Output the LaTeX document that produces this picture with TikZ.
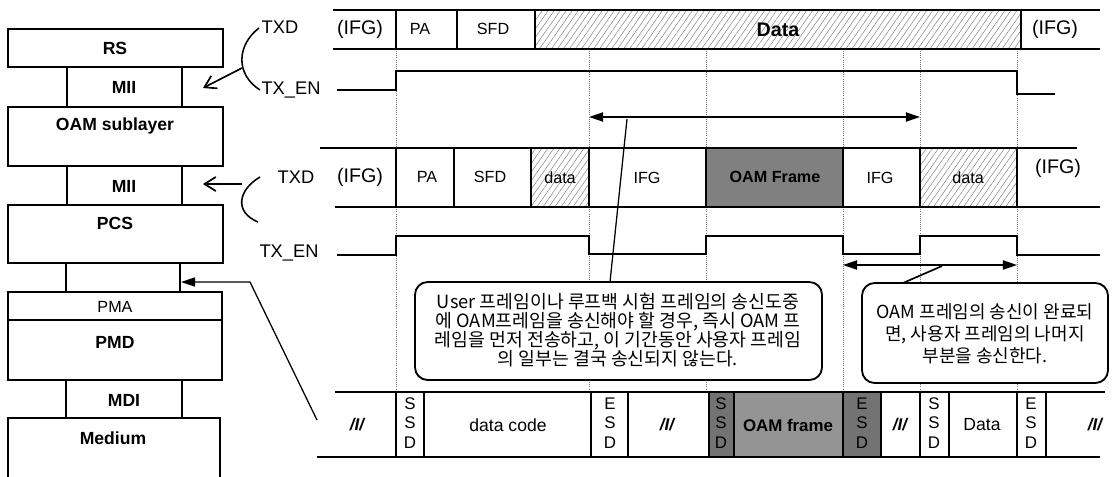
\documentclass[tikz,border=0pt]{standalone}
\usepackage{fontspec}
\setmainfont{Liberation Sans}
\newfontfamily\krfont{Noto Sans CJK KR}
\usetikzlibrary{arrows.meta,patterns.meta}

\tikzset{
  box/.style={line width=1.2pt},
  lbl/.style={font=\fontsize{13}{15}\selectfont},
  layer/.style={font=\fontsize{12.5}{15}\selectfont\bfseries},
  cell/.style={font=\fontsize{11.5}{14}\selectfont},
  big/.style={font=\fontsize{14}{16}\selectfont},
  stack/.style={font=\fontsize{12}{14}\selectfont,align=center},
  guide/.style={densely dotted,black!55,line width=0.5pt},
  hatch/.style={pattern={Lines[angle=55,distance=3.5pt,line width=0.35pt]},pattern color=black!50},
  callout/.style={draw,line width=1.3pt,fill=white,rounded corners=9pt},
  note/.style={font=\krfont\fontsize{13}{13.4}\selectfont,align=center},
  barb/.style={-{Straight Barb[length=8pt,width=10pt]},line width=1.2pt}
}

\begin{document}
\begin{tikzpicture}[x=0.025cm,y=-0.025cm,>={Triangle[length=10pt,width=6.5pt]}]
  \useasboundingbox (0,0) rectangle (1112,476);

  % layer stack
  \draw[box] (8,29) rectangle (223,67);
  \node[layer] (rs) at (115,48) {RS};
  \draw[box] (67,67) rectangle (182,107);
  \node[layer] (miia) at (124,87) {MII};
  \draw[box] (8,107) rectangle (223,166);
  \node[layer] (oam) at (115,126) {OAM sublayer};
  \draw[box] (67,166) rectangle (182,205);
  \node[layer] (miib) at (124,186) {MII};
  \draw[box] (8,205) rectangle (223,263);
  \node[layer] (pcs) at (115,223) {PCS};
  \draw[box] (66,263) rectangle (180,292);
  \draw[box] (8,292) rectangle (222,320);
  \node[cell] (pma) at (115,307) {PMA};
  \draw[box] (8,320) rectangle (222,380);
  \node[layer] (pmd) at (115,342) {PMD};
  \draw[box] (66,380) rectangle (182,418);
  \node[layer] (mdi) at (124,400) {MDI};
  \draw[box] (8,418) rectangle (220,495);
  \node[layer] (medium) at (113,438) {Medium};

  % signal names
  \node[lbl] (txda) at (280,27) {TXD};
  \node[lbl] (txena) at (291,90) {TX\_EN};
  \node[lbl] (txdb) at (296,177) {TXD};
  \node[lbl] (txenb) at (289,253) {TX\_EN};
  \draw[line width=1.1pt] (259,28) .. controls (237,45) and (235,74) .. (260,90);
  \draw[line width=1.1pt] (260,177) .. controls (238,190) and (234,212) .. (258,222);
  \coordinate (curvea) at (242,68);
  \coordinate (miiaend) at (203,88);
  \coordinate (curveb) at (242,184);
  \coordinate (miibend) at (203,184);
  \draw[barb] (curvea) -- (miiaend);
  \draw[barb] (curveb) -- (miibend);

  % guides
  \foreach \gx in {396,589,706,843,920,1017}
    \draw[guide] (\gx,49) -- (\gx,392);

  % upper TXD row
  \fill[hatch] (535,10) rectangle (1021,49);
  \draw[box] (333,10) -- (1100,10);
  \draw[box] (333,49) -- (1100,49);
  \foreach \cx in {396,457,535,1021}
    \draw[box] (\cx,10) -- (\cx,49);
  \node[big] (ifga) at (360,29) {(IFG)};
  \node[cell] (paa) at (420,29) {PA};
  \node[cell] (sfda) at (493,29) {SFD};
  \node[big,font=\fontsize{14}{16}\selectfont\bfseries] (dataa) at (778,30) {Data};
  \node[big] (ifgb) at (1055,29) {(IFG)};

  % upper TX_EN
  \draw[box] (337,90) -- (396,90) -- (396,71) -- (1017,71) -- (1017,94) -- (1055,94);

  % lower TXD row
  \fill[hatch] (531,148) rectangle (589,207);
  \fill[black!50] (706,148) rectangle (843,207);
  \fill[hatch] (920,148) rectangle (1017,207);
  \draw[box] (320,148) -- (1077,148);
  \draw[box] (335,207) -- (1100,207);
  \foreach \cx in {396,454,531,589,706,843,920,1017}
    \draw[box] (\cx,148) -- (\cx,207);
  \node[big] (ifgc) at (360,177) {(IFG)};
  \node[cell] (pab) at (427,177) {PA};
  \node[cell] (sfdb) at (490,177) {SFD};
  \node[cell] (datab) at (560,178) {data};
  \node[cell] (ifgd) at (647,178) {IFG};
  \node[cell,font=\fontsize{11.5}{14}\selectfont\bfseries] (oamf) at (775,177) {OAM Frame};
  \node[cell] (ifge) at (880,178) {IFG};
  \node[cell] (datac) at (968,178) {data};
  \node[big] (ifgf) at (1058,168) {(IFG)};

  % lower TX_EN
  \draw[box] (337,255) -- (396,255) -- (396,236) -- (589,236) -- (589,254) -- (706,254)
    -- (706,236) -- (843,236) -- (843,254) -- (920,254) -- (920,236) -- (1017,236)
    -- (1017,255) -- (1100,255);

  % spans
  \coordinate (spanal) at (589,117);
  \coordinate (spanar) at (920,117);
  \coordinate (spanbl) at (843,265);
  \coordinate (spanbr) at (1017,265);
  \draw[<->,line width=1.1pt] (spanal) -- (spanar);
  \draw[<->,line width=1.1pt] (spanbl) -- (spanbr);

  % callouts
  \coordinate (taila) at (627,119);
  \coordinate (tipa) at (610,282);
  \coordinate (tailb) at (942,266);
  \coordinate (tipb) at (903,283);
  \draw[line width=0.9pt] (taila) -- (tipa);
  \draw[line width=1.2pt] (tailb) -- (tipb);
  \draw[callout] (415,282) rectangle (822,380);
  \node[note] (notea) at (618,330) {User 프레임이나 루프백 시험 프레임의 송신도중\\에 OAM프레임을 송신해야 할 경우, 즉시 OAM 프\\레임을 먼저 전송하고, 이 기간동안 사용자 프레임\\의 일부는 결국 송신되지 않는다.};
  \draw[callout] (862,283) rectangle (1108,383);
  \node[note,font=\krfont\fontsize{12.8}{15.5}\selectfont] (noteb) at (985,334) {OAM 프레임의 송신이 완료되\\면, 사용자 프레임의 나머지\\부분을 송신한다.};

  % code row
  \fill[black!55] (709,392) rectangle (734,457);
  \fill[black!42] (734,392) rectangle (843,457);
  \fill[black!55] (843,392) rectangle (881,457);
  \draw[box] (335,392) -- (1105,392);
  \draw[box] (317,457) -- (1100,457);
  \foreach \cx in {396,424,591,628,709,734,843,881,920,949,1017,1046}
    \draw[box] (\cx,392) -- (\cx,457);
  \node[cell,font=\fontsize{12}{14}\selectfont\bfseries\itshape] (idla) at (357,425) {/I/};
  \node[stack] (ssda) at (410,423) {S\\S\\D};
  \node[cell,font=\fontsize{12.5}{14}\selectfont] (dcode) at (508,425) {data code};
  \node[stack] (esda) at (610,423) {E\\S\\D};
  \node[cell,font=\fontsize{12}{14}\selectfont\bfseries\itshape] (idlb) at (667,425) {/I/};
  \node[stack] (ssdb) at (721,423) {S\\S\\D};
  \node[cell,font=\fontsize{12}{14}\selectfont\bfseries] (oamc) at (788,425) {OAM frame};
  \node[stack] (esdb) at (862,423) {E\\S\\D};
  \node[cell,font=\fontsize{12}{14}\selectfont\bfseries\itshape] (idlc) at (900,425) {/I/};
  \node[stack] (ssdc) at (934,423) {S\\S\\D};
  \node[cell,font=\fontsize{12.5}{14}\selectfont] (datad) at (982,425) {Data};
  \node[stack] (esdc) at (1031,423) {E\\S\\D};
  \node[cell,font=\fontsize{12}{14}\selectfont\bfseries\itshape] (idld) at (1095,425) {/I/};

  % pointer to PMA service interface
  \coordinate (codeend) at (317,420);
  \coordinate (bend) at (250,282);
  \coordinate (pmaup) at (181,282);
  \draw[->,line width=0.9pt] (codeend) -- (bend) -- (pmaup);
\end{tikzpicture}
\end{document}
